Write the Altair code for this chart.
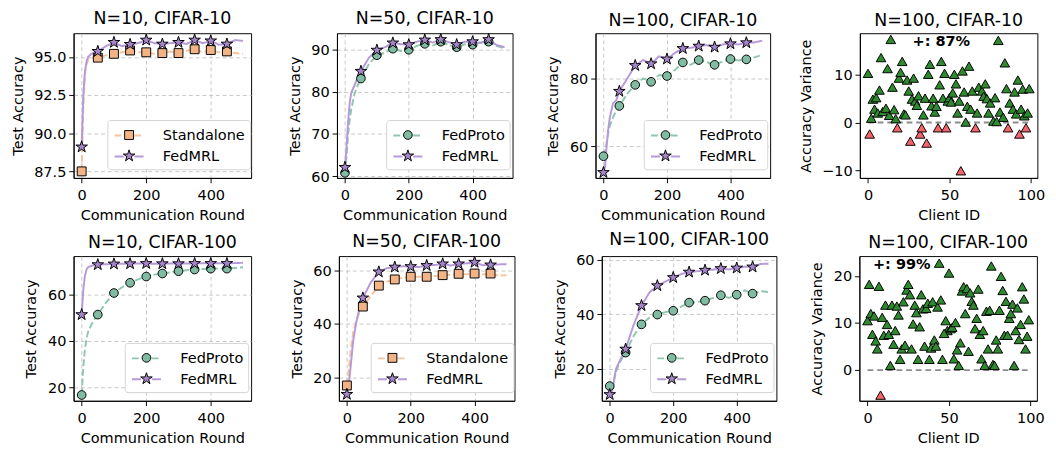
import altair as alt
import pandas as pd

ROUNDS = [0, 5, 10, 15, 20, 30, 40, 50, 75, 100, 125, 150, 175, 200, 225, 250, 275,
          300, 325, 350, 375, 400, 425, 450, 475, 500]

# N=10, CIFAR-10
c10_n10_standalone = [87.5, 91.5, 93.8, 94.5, 94.8, 94.9, 95.0, 94.95, 95.1, 95.2, 95.3, 95.42, 95.3,
                      95.3, 95.2, 95.25, 95.35, 95.25, 95.4, 95.5, 95.3, 95.45, 95.3, 95.36, 95.25, 95.2]
c10_n10_fedmrl = [89.1, 92.5, 94.0, 94.7, 95.0, 95.2, 95.3, 95.36, 95.7, 95.95, 95.7, 95.82, 95.9,
                  96.1, 95.9, 95.84, 95.9, 95.95, 95.85, 96.1, 95.9, 96.05, 95.8, 95.84, 96.1, 96.05]
# N=50, CIFAR-10
c10_n50_fedproto = [60.8, 65.0, 70.0, 73.5, 76.0, 79.5, 81.5, 83.1, 86.5, 88.6, 89.2, 90.15, 89.6,
                    89.9, 90.8, 91.3, 90.9, 91.8, 91.0, 90.5, 91.2, 91.1, 91.6, 91.8, 90.8, 90.2]
c10_n50_fedmrl = [62.1, 67.0, 73.0, 77.5, 79.8, 81.5, 83.3, 84.8, 88.0, 89.8, 90.5, 91.5, 91.2,
                  91.1, 91.8, 92.2, 91.6, 92.3, 91.7, 91.1, 91.8, 91.8, 91.5, 92.3, 91.0, 90.5]
# N=100, CIFAR-10
c10_n100_fedproto = [57.1, 58.5, 61.0, 64.0, 66.0, 68.5, 70.5, 71.9, 75.5, 78.1, 80.0, 79.0, 81.0,
                     80.7, 82.5, 84.7, 84.0, 85.4, 84.8, 84.0, 85.0, 85.7, 85.3, 85.6, 86.2, 86.9]
c10_n100_fedmrl = [52.3, 54.0, 60.0, 65.0, 68.5, 72.6, 73.5, 76.2, 80.0, 83.8, 85.4, 84.3, 86.5,
                   85.7, 87.5, 88.8, 89.0, 89.5, 89.8, 89.2, 90.0, 90.2, 90.0, 90.5, 90.6, 91.1]
# N=10, CIFAR-100
c100_n10_fedproto = [16.8, 29.0, 36.5, 41.0, 44.0, 47.0, 49.5, 51.4, 56.5, 60.7, 63.2, 65.1, 66.6,
                     67.8, 68.6, 69.1, 69.6, 70.1, 70.5, 70.8, 71.0, 71.2, 71.2, 71.2, 71.5, 71.8]
c100_n10_fedmrl = [51.4, 62.0, 68.0, 70.8, 71.8, 72.4, 72.7, 72.9, 73.1, 73.2, 73.3, 73.3, 73.4,
                   73.4, 73.3, 73.3, 73.4, 73.3, 73.4, 73.4, 73.5, 73.4, 73.5, 73.4, 73.6, 73.7]
# N=50, CIFAR-100
c100_n50_standalone = [17.1, 22.0, 28.0, 33.0, 37.0, 41.5, 44.5, 46.5, 50.5, 54.3, 55.8, 56.6, 57.2,
                       57.6, 57.6, 57.6, 57.9, 58.2, 58.3, 58.7, 58.5, 58.8, 58.5, 58.8, 58.0, 58.2]
c100_n50_fedmrl = [13.8, 17.0, 22.0, 28.0, 34.0, 41.0, 46.0, 49.7, 55.5, 59.4, 60.8, 61.2, 61.5,
                   61.4, 61.2, 61.8, 62.0, 62.4, 61.8, 62.4, 62.6, 63.0, 61.9, 62.0, 62.2, 62.3]
# N=100, CIFAR-100
c100_n100_fedproto = [13.6, 13.0, 14.0, 16.5, 19.0, 22.0, 24.0, 25.9, 32.0, 36.3, 38.8, 39.9, 40.8,
                      41.3, 42.8, 44.3, 44.5, 45.0, 46.0, 47.0, 46.0, 47.2, 48.8, 47.6, 48.5, 48.2]
c100_n100_fedmrl = [10.5, 11.0, 13.0, 17.0, 20.0, 22.5, 25.0, 27.2, 36.0, 43.2, 48.0, 50.5, 52.0,
                    53.5, 54.8, 55.5, 55.8, 56.2, 56.4, 56.8, 56.5, 57.0, 57.5, 57.4, 58.5, 58.6]

# Accuracy variance per client, N=100 CIFAR-10
var10_clients = [0, 1, 2, 3, 4, 5, 6, 7, 8, 9, 11, 12, 13, 14, 15, 16, 17, 18, 19, 20, 21, 22, 23,
                 24, 25, 26, 27, 28, 29, 30, 31, 32, 33, 34, 35, 36, 37, 38, 39, 40, 41, 42, 43, 44,
                 45, 46, 47, 48, 49, 50, 51, 52, 53, 54, 55, 56, 57, 58, 59, 60, 61, 62, 63, 64, 66,
                 67, 68, 70, 71, 72, 73, 74, 75, 77, 78, 79, 80, 81, 83, 84, 85, 86, 87, 89, 90, 91,
                 92, 93, 94, 95, 96, 97, 98, 99]
var10_values = [10.3, -2.4, 0.9, 4.9, 2.8, 5.2, 2.0, 6.8, 13.6, 2.3, 3.0, 11.3, 1.5, 17.4, 7.4, 2.7,
                0.8, -1.1, 9.3, 10.5, 12.8, 1.8, 1.6, 8.9, 6.6, -3.9, 4.9, 9.3, 4.5, 3.6, 5.6, -2.4,
                -1.1, 1.6, 5.1, -4.3, 10.1, 12.2, 3.5, 5.1, 2.2, 3.4, -1.1, 7.9, 12.8, 5.1, 10.3,
                -1.1, 4.5, 5.2, 4.3, 6.2, 10.1, 8.1, 2.0, 4.5, -10.1, 10.8, 6.4, 0.1, 3.4, 11.8, 2.8,
                6.6, -1.1, 2.0, 7.4, 6.6, 5.5, 8.1, 5.0, 2.0, 4.1, 0.3, 5.2, 0.2, 17.2, 2.2, 1.1,
                12.5, 7.1, -1.1, 4.1, 2.8, 6.4, 1.8, 8.9, -2.4, 2.8, 7.0, 1.4, -1.1, 2.0, 7.1]

# Accuracy variance per client, N=100 CIFAR-100
var100_clients = list(range(0, 47)) + list(range(48, 100)) + [47]
var100_values = [10.5, 18.2, 12.0, 7.6, 11.5, 6.2, 4.5, 17.8, -5.3, 11.2, 7.4, 13.8, 9.7, 7.6, 1.0,
                 13.8, 5.5, 8.4, 13.6, 11.7, 2.3, 4.5, 14.5, 5.3, 17.0, 18.2, 16.0, 4.5, 9.8, 13.8,
                 12.2, 2.3, 9.2, 16.0, 13.0, 5.1, 13.1, 14.2, 2.3, 4.7, 14.5, 6.4, 5.1, 13.4, 22.7,
                 14.9, 2.3,
                 10.5, 8.4, 20.6, 8.8, 9.1, 2.4, 10.1, 4.3, 1.0, 5.8, 16.8, 17.7, 12.0, 17.3, 4.0,
                 16.4, 14.6, 13.8, 8.8, 11.0, 17.2, 7.6, 2.4, 8.4, 1.0, 12.5, 4.5, 12.7, 22.1, 1.2,
                 1.0, 6.4, 4.5, 12.7, 19.9, 16.9, 7.4, 14.6, 7.4, 11.0, 12.0, 14.0, 1.0, 8.4, 13.2,
                 6.5, 9.7, 17.7, 15.1, 4.5, 7.2, 10.7,
                 7.8]

LINE_COLOR = {"Standalone": "#f6c39e", "FedProto": "#8fc6af", "FedMRL": "#b699da"}
MARK_COLOR = {"Standalone": "#f2b487", "FedProto": "#80bca2", "FedMRL": "#a586cb"}
MARK_SHAPE = {
    "Standalone": "M-0.46,-0.46H0.46V0.46H-0.46Z",
    "FedProto": "M-0.45,0A0.45,0.45,0,1,1,0.45,0A0.45,0.45,0,1,1,-0.45,0Z",
    "FedMRL": ("M0,-0.63L0.141,-0.195L0.599,-0.195L0.229,0.074L0.370,0.510L0,0.241"
               "L-0.370,0.510L-0.229,0.074L-0.599,-0.195L-0.141,-0.195Z"),
}
LINE_DASH = {"Standalone": [7, 3], "FedProto": [7, 3], "FedMRL": [1, 0]}
LEGEND_LINE = "M-1.5,0H-0.55M0.55,0H1.5"
LABEL_W = {"Standalone": 85, "FedProto": 67, "FedMRL": 59}

GREEN = "#2f8a2f"
RED = "#f4646a"
FONT = "DejaVu Sans"
PH = 150


def line_panel(idx, title, base, base_vals, mrl_vals, ydom, yticks, yfmt, w):
    s, m = f"s{idx}", f"m{idx}"
    order = [base, "FedMRL"]
    morder = [o + " marker" for o in order]
    rows = []
    for name, vals in ((base, base_vals), ("FedMRL", mrl_vals)):
        for r, v in zip(ROUNDS, vals):
            rows.append({"round": r, "acc": v, s: name, m: name + " marker"})
    df = pd.DataFrame(rows)
    lw = 56 + max(LABEL_W[o] for o in order)
    lx = w - 8 - lw
    ly = PH - 7 - 53
    common = dict(title=None, orient="none", legendX=lx, legendY=ly, padding=5, rowPadding=2.7,
                  symbolSize=400, labelFont=FONT, labelFontSize=15, labelColor="black",
                  labelOffset=24)
    leg_line = alt.Legend(**common, symbolType=LEGEND_LINE, symbolStrokeWidth=2, symbolOffset=6.5,
                          fillColor="white", strokeColor="#d3d3d3", cornerRadius=3, zindex=1)
    leg_mark = alt.Legend(**common, symbolOffset=7, labelExpr="''", symbolStrokeWidth=1,
                          symbolOpacity=1, zindex=2)
    x = alt.X("round:Q", scale=alt.Scale(domain=[-25, 525], nice=False),
              axis=alt.Axis(values=[0, 200, 400], title="Communication Round", grid=True))
    y = alt.Y("acc:Q", scale=alt.Scale(domain=ydom, nice=False, zero=False),
              axis=alt.Axis(values=yticks, format=yfmt, title="Test Accuracy", grid=True))
    lines = alt.Chart(df).mark_line(strokeWidth=2).encode(
        x=x, y=y,
        color=alt.Color(f"{s}:N", scale=alt.Scale(domain=order, range=[LINE_COLOR[o] for o in order]),
                        legend=leg_line),
        strokeDash=alt.StrokeDash(f"{s}:N", scale=alt.Scale(domain=order, range=[LINE_DASH[o] for o in order]),
                                  legend=leg_line),
    )
    pts = alt.Chart(df).transform_filter("datum.round % 50 == 0 && datum.round < 500").mark_point(
        filled=True, size=400, strokeWidth=1, opacity=1).encode(
        x=x, y=y,
        fill=alt.Fill(f"{m}:N", scale=alt.Scale(domain=morder, range=[MARK_COLOR[o] for o in order]),
                      legend=leg_mark),
        shape=alt.Shape(f"{m}:N", scale=alt.Scale(domain=morder, range=[MARK_SHAPE[o] for o in order]),
                        legend=leg_mark),
        stroke=alt.Stroke(f"{m}:N", scale=alt.Scale(domain=morder, range=["black", "black"]),
                          legend=leg_mark),
    )
    return alt.layer(lines, pts).properties(title=title, width=w, height=PH)


def scatter_panel(title, clients, vals, ydom, yticks, note, note_x, note_y, w):
    df = pd.DataFrame({"client": clients, "v": vals})
    x = alt.X("client:Q", scale=alt.Scale(domain=[-5, 104], nice=False),
              axis=alt.Axis(values=[0, 50, 100], title="Client ID", grid=False))
    y = alt.Y("v:Q", scale=alt.Scale(domain=ydom, nice=False, zero=False),
              axis=alt.Axis(values=yticks, title="Accuracy Variance", grid=False))
    zero = alt.Chart(pd.DataFrame({"client": [0], "client_end": [99], "v": [0]})).mark_rule(
        color="#8c8c8c", strokeWidth=2, strokeDash=[6, 4]).encode(x=x, x2="client_end:Q", y=y)
    pts = alt.Chart(df).mark_point(shape="triangle-up", filled=True, size=100, stroke="black",
                                   strokeWidth=1, opacity=1).encode(
        x=x, y=y, fill=alt.condition("datum.v >= 0", alt.value(GREEN), alt.value(RED)))
    txt = alt.Chart(pd.DataFrame({"client": [note_x], "v": [note_y], "t": [note]})).mark_text(
        font=FONT, fontSize=15, fontWeight="bold", color="black").encode(x=x, y=y, text="t:N")
    return alt.layer(zero, pts, txt).properties(title=title, width=w, height=PH)


p1 = line_panel(1, "N=10, CIFAR-10", "Standalone", c10_n10_standalone, c10_n10_fedmrl,
                [87.07, 96.55], [87.5, 90.0, 92.5, 95.0], ".1f", 184)
p2 = line_panel(2, "N=50, CIFAR-10", "FedProto", c10_n50_fedproto, c10_n50_fedmrl,
                [59.6, 93.8], [60, 70, 80, 90], "d", 182)
p3 = line_panel(3, "N=100, CIFAR-10", "FedProto", c10_n100_fedproto, c10_n100_fedmrl,
                [50.7, 93.3], [60, 80], "d", 181)
p4 = scatter_panel("N=100, CIFAR-10", var10_clients, var10_values, [-11.6, 18.7], [-10, 0, 10],
                   "+: 87%", 45, 17.0, 184)
p5 = line_panel(5, "N=10, CIFAR-100", "FedProto", c100_n10_fedproto, c100_n10_fedmrl,
                [14.3, 76.6], [20, 40, 60], "d", 184)
p6 = line_panel(6, "N=50, CIFAR-100", "Standalone", c100_n50_standalone, c100_n50_fedmrl,
                [11.4, 65.3], [20, 40, 60], "d", 182)
p7 = line_panel(7, "N=100, CIFAR-100", "FedProto", c100_n100_fedproto, c100_n100_fedmrl,
                [8.2, 61.4], [20, 40, 60], "d", 181)
p8 = scatter_panel("N=100, CIFAR-100", var100_clients, var100_values, [-6.5, 24.2], [0, 10, 20],
                   "+: 99%", 21, 22.4, 184)

IND = dict(x="independent", y="independent", color="independent", stroke="independent",
           strokeDash="independent", fill="independent", shape="independent")
LIND = dict(color="independent", stroke="independent", strokeDash="independent",
            fill="independent", shape="independent")


def hc(a, b, sp):
    return alt.hconcat(a, b, spacing=sp).resolve_scale(**IND).resolve_legend(**LIND)


def row(a, b, c, d, s1, s2, s3):
    return hc(hc(hc(a, b, s1), c, s2), d, s3)


chart = alt.vconcat(row(p1, p2, p3, p4, 36, 33, 27), row(p5, p6, p7, p8, 38, 37.5, 33.5),
                    spacing=8).resolve_scale(**IND).resolve_legend(**LIND).properties(
    padding={"left": 2, "top": -7, "right": 2, "bottom": 0}, background="white"
).configure(font=FONT).configure_view(stroke="black", strokeWidth=1).configure_axis(
    labelFont=FONT, labelFontSize=15, labelColor="black", titleFont=FONT, titleFontSize=15,
    titleFontWeight="normal", titleColor="black", tickColor="black", tickSize=5, tickWidth=1,
    domainColor="black", domainWidth=1, gridColor="#b8b8b8", gridDash=[4, 3], gridWidth=0.8,
    labelPadding=3
).configure_axisX(titlePadding=6, labelPadding=5).configure_axisY(titlePadding=9).configure_title(
    font=FONT, fontSize=18, fontWeight="normal", color="black", offset=0)

chart.save("out.html", embed_options={"renderer": "svg", "actions": False})
